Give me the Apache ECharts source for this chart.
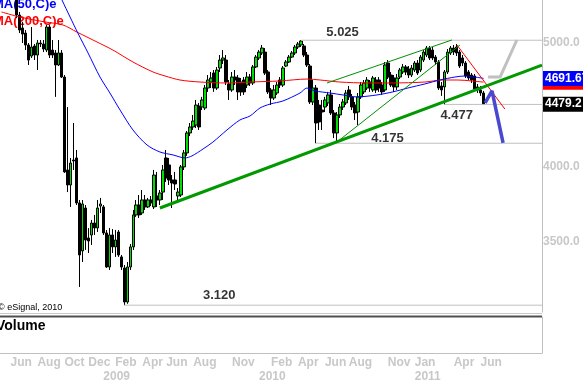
<!DOCTYPE html>
<html><head><meta charset="utf-8">
<script src="https://cdn.jsdelivr.net/npm/echarts@6/dist/echarts.min.js"></script>
<style>html,body{margin:0;padding:0;background:#fff}#c{width:583px;height:385px}</style>
</head><body><div id="c"></div>
<script>
// ---------- DATA ----------
const startYear = 2008, startMonth = 5, startDay = 12;   // first weekly bar (Mon 12 May 2008)
const weekCount = 181;                                   // weeks on the axis (incl. empty future weeks)
// weekly candles [open, close, low, high]; '-' = off the top of the chart
const candles = ['-','-','-','-','-',
[5451,5258,5230,5500],[5258,5118,5090,5287],[5137,5081,5000,5193],[5090,4982,4937,5118],[4982,4849,4806,5000],
[4884,4964,4867,5146],[4973,4893,4849,4991],[4893,5000,4763,5027],[5000,4991,4964,5027],[4991,4946,4919,5027],
[4937,5146,4919,5165],[5146,4893,4867,5165],[4937,4893,4867,5027],[4911,4806,4538,4937],[4806,4911,4797,5027],
[4911,4703,4695,4937],[4703,3965,3958,4720],[3979,3873,3824,4456],[3873,4029,3723,4066],[4051,4044,3979,4330],
[4066,3750,3736,4125],[3750,3415,3224,3770],[3440,3743,3372,3770],[3716,3508,3446,3736],[3521,3502,3427,3584],
[3540,3617,3477,3637],[3617,3585,3540,3670],[3585,3716,3559,3770],[3729,3743,3683,3784],[3723,3553,3540,3736],
[3553,3342,3336,3572],[3342,3540,3324,3585],[3540,3465,3427,3578],[3465,3508,3403,3572],[3559,3415,3403,3572],
[3403,3342,3324,3415],[3336,3138,3120,3354],[3138,3342,3128,3372],[3342,3465,3324,3483],[3465,3670,3446,3703],
[3670,3736,3657,3770],[3736,3670,3650,3804],[3683,3770,3670,3838],[3770,3723,3703,3804],[3723,3770,3716,3784],
[3770,3750,3729,3797],[3723,3943,3709,3979],[3797,3770,3723,3965],[3770,3818,3736,3838],[3824,3979,3770,4015],
[4066,3922,3894,4125],[4015,3908,3873,4066],[3908,3887,3716,3943],[3908,3880,3838,3965],[3797,3824,3770,3852],
[3804,4001,3790,4015],[4001,4103,3979,4125],[4103,4253,4081,4268],[4253,4299,4229,4330],[4299,4345,4276,4393],
[4314,4472,4291,4513],[4464,4299,4276,4489],[4456,4513,4432,4538],[4448,4611,4432,4636],[4611,4678,4579,4720],
[4661,4695,4611,4746],[4737,4611,4579,4763],[4611,4763,4595,4789],[4780,4849,4746,4893],[4849,4867,4815,4937],
[4849,4661,4636,4893],[4645,4595,4513,4678],[4595,4703,4579,4746],[4703,4678,4636,4763],[4695,4579,4513,4720],
[4661,4579,4546,4695],[4678,4579,4554,4703],[4636,4703,4611,4746],[4703,4653,4628,4729],[4653,4789,4636,4806],
[4789,4875,4780,4893],[4867,4919,4849,4937],[4911,4955,4893,4982],[4919,4737,4720,4955],[4746,4579,4562,4763],
[4595,4529,4472,4611],[4529,4595,4513,4636],[4570,4636,4554,4661],[4678,4636,4611,4703],[4636,4780,4620,4797],
[4797,4832,4789,4849],[4832,4875,4823,4893],[4875,4911,4867,4928],[4911,4964,4893,4982],[4964,4991,4946,5009],
[4982,5018,4964,5025],[4973,4893,4875,4991],[4893,4806,4789,4919],[4797,4497,4480,4815],[4497,4611,4472,4678],
[4611,4330,4175,4636],[4472,4338,4276,4513],[4432,4416,4276,4513],[4456,4513,4416,4538],[4489,4554,4464,4579],
[4554,4409,4393,4595],[4409,4253,4214,4432],[4253,4393,4178,4416],[4393,4456,4369,4480],[4456,4497,4432,4521],
[4489,4570,4472,4595],[4595,4538,4513,4628],[4538,4456,4432,4562],[4472,4409,4353,4497],[4416,4538,4314,4570],
[4538,4636,4521,4661],[4579,4653,4562,4678],[4611,4678,4595,4703],[4661,4611,4579,4678],[4595,4695,4579,4712],
[4678,4595,4570,4703],[4678,4611,4579,4703],[4636,4579,4554,4661],[4595,4806,4579,4832],[4823,4703,4686,4849],
[4720,4636,4620,4746],[4695,4620,4579,4720],[4620,4695,4595,4729],[4703,4763,4686,4780],[4746,4789,4729,4815],
[4789,4746,4720,4806],[4772,4720,4695,4797],[4720,4780,4703,4806],[4763,4823,4746,4840],[4823,4737,4720,4849],
[4763,4875,4746,4893],[4849,4919,4832,4937],[4893,4955,4875,4973],[4955,4867,4849,4973],[4937,4867,4849,4964],
[4875,4832,4806,4893],[4832,4611,4595,4849],[4628,4595,4546,4661],[4620,4746,4477,4763],[4746,4919,4729,4946],
[4911,4955,4893,4973],[4955,4919,4893,4982],[4964,4911,4884,4991],[4919,4797,4780,4937],[4867,4823,4797,4893],
[4823,4712,4695,4840],[4746,4695,4678,4763],[4720,4678,4653,4737],[4712,4603,4587,4729],[4620,4595,4570,4645],
[4595,4570,4546,4628],[4570,4479.2,4472,4587]
];
// moving averages: [week index, value]
const ma50Points = [[17.9,5550],[20.2,5402],[22.9,5239],[25.5,5090],[28.9,4911],[32.9,4703],[36.2,4570],[39.6,4432],
[43.9,4276],[48.6,4162],[52.9,4110],[57.3,4088],[61.3,4066],[63.6,4081],[67.3,4132],[70.6,4184],[75.3,4276],[79.6,4353],
[83.0,4385],[86.3,4448],[89.7,4480],[94.0,4505],[99.7,4570],[102.0,4611],[104.7,4587],[109.7,4570],[114.0,4554],
[118.7,4538],[125.4,4554],[130.7,4579],[135.7,4611],[141.4,4645],[146.4,4678],[151.4,4703],[154.8,4712],[158.1,4703],
[161,4691.67]];
const ma200Points = [[0,5287],[6.2,5239],[14.5,5193],[20.5,5165],[25.2,5099],[31.9,5009],[37.2,4937],[43.9,4832],
[50.6,4746],[54.6,4712],[59.6,4678],[66.3,4661],[75.3,4653],[83.0,4661],[93.0,4670],[102.0,4686],[106.4,4678],
[113.0,4661],[122.1,4653],[130.4,4653],[141.4,4661],[147.1,4678],[152.4,4678],[157.1,4670],[161,4660]];
const ma50Last = 4691.67, ma200Last = 4660, lastClose = 4479.2;
const priceTicks = [5000, 4000, 3500];
const yMin = 3082, yMax = 5402;
// x axis tick labels (first weekly bar of the month)
const tickDates = ['2008-06-02','2008-08-04','2008-10-06','2008-12-01','2009-01-05','2009-02-02','2009-04-06','2009-06-01',
'2009-08-03','2009-11-02','2010-01-04','2010-02-01','2010-04-05','2010-06-07','2010-08-02','2010-11-01','2011-01-03',
'2011-04-04','2011-06-06'];
const tickTexts = ['Jun','Aug','Oct','Dec',' \n2009','Feb','Apr','Jun','Aug','Nov',' \n2010','Feb','Apr','Jun','Aug','Nov',
'Jan\n2011','Apr','Jun'];
// marked levels: value and week index where it was set
const levelValues = [5025, 4175, 4477, 3120];
const levelWeeks = [100, 105, 148, 41];
// drawn trend lines / arrows [week index, value]
const trendMain = [[52.9,3716],[180.5,4805]];
const channelUpper = [[108.7,4653],[150.4,5027]];
const channelLower = [[112.0,4184],[153.1,4982]];
const downTrend = [[152.1,4982],[168.1,4440]];
const grayArrow = [[162.5,4703],[166.5,4703],[172.1,5027]];
const blueArrow = [[161.5,4489],[163.8,4587],[167.5,4177]];

// ---------- LAYOUT ----------
const levelLabelAnchors = [[113.9,5095],[128.9,4212],[152.0,4393],[72.7,3173]];
const FONT = '"Liberation Sans", Arial, Helvetica, sans-serif';
const GREY = '#c8c8c8';

const dates = [];
for (let k = 0; k < weekCount; k++) {
  const d = new Date(Date.UTC(startYear, startMonth - 1, startDay + 7 * k));
  dates.push(d.toISOString().slice(0, 10));
}
const tickMap = {};
tickDates.forEach((d, k) => { tickMap[d] = tickTexts[k]; });
const rightEnd = weekCount - 0.5;
const fmtLevel = v => (v / 1000).toFixed(3);

const overlay = (data, color, width, z) => ({
  type: 'line', xAxisIndex: 2, yAxisIndex: 0, data, symbol: 'none', showSymbol: false,
  lineStyle: { color, width }, silent: true, z: z || 3, animation: false
});

const sideLabel = (bg) => ({
  show: true, position: 'end', distance: 1, color: '#fff', backgroundColor: bg,
  fontFamily: FONT, fontWeight: 'bold', fontSize: 12, padding: [2, 2, 1, 2],
  formatter: p => p.value.toFixed(p.value === lastClose ? 1 : 2)
});

const series = [
  {
    type: 'candlestick', xAxisIndex: 0, yAxisIndex: 0, data: candles, barWidth: 3, z: 2,
    itemStyle: { color: '#00dd00', color0: '#000', borderColor: '#000', borderColor0: '#000', borderWidth: 1 },
    markLine: {
      silent: true, symbol: ['none', 'none'], animation: false,
      lineStyle: { color: 'rgba(0,0,0,0)', width: 0 },
      data: priceTicks.map(v => ({ yAxis: v, label: { show: true, position: 'end', distance: 1, color: GREY,
        fontFamily: FONT, fontWeight: 'bold', fontSize: 12, formatter: p => p.value.toFixed(1) } }))
        .concat([
          { yAxis: ma200Last, label: sideLabel('#ff0000') },
          { yAxis: ma50Last, label: sideLabel('#0000ff') },
          { yAxis: lastClose, label: sideLabel('#000000') }
        ])
    }
  },
  Object.assign(overlay(ma200Points, '#ff0000', 1), { smooth: 0.3 }),
  Object.assign(overlay(ma50Points, '#0000ff', 1), { smooth: 0.3 })
];
levelValues.forEach((v, k) => series.push(overlay([[levelWeeks[k], v], [rightEnd, v]], '#c0c0c0', 1)));
series.push(overlay(channelUpper, '#009000', 1));
series.push(overlay(channelLower, '#009000', 1));
series.push(overlay(trendMain, '#009900', 3, 4));
series.push(overlay(downTrend, '#ff0000', 1));
series.push(overlay(grayArrow, '#c0c0c0', 3, 4));
series.push(overlay(blueArrow, '#4848d0', 3.5, 4));
series.push({
  type: 'scatter', xAxisIndex: 2, yAxisIndex: 0, symbolSize: 1, silent: true, z: 6,
  itemStyle: { color: 'rgba(0,0,0,0)' },
  data: levelLabelAnchors.map((p, k) => ({ value: p, label: { formatter: fmtLevel(levelValues[k]) } })),
  label: { show: true, position: 'inside', color: '#000', fontFamily: FONT, fontWeight: 'bold', fontSize: 13 }
});

const noAxisBits = { axisTick: { show: false }, axisLabel: { show: false }, splitLine: { show: false } };
const chart = echarts.init(document.getElementById('c'), null, { renderer: 'canvas' });
chart.setOption({
  animation: false,
  backgroundColor: '#ffffff',
  grid: [
    { left: 0, right: 41, top: 0, height: 312, outerBoundsMode: 'none', containLabel: false },
    { left: 0, right: 41, top: 317, height: 36, outerBoundsMode: 'none', containLabel: false }
  ],
  xAxis: [
    { type: 'category', gridIndex: 0, data: dates, show: false, boundaryGap: true },
    { type: 'category', gridIndex: 1, data: dates, boundaryGap: true,
      axisLine: { onZero: false, lineStyle: { color: '#c0c0c0' } }, axisTick: { show: false }, splitLine: { show: false },
      axisLabel: { interval: (i, v) => Object.prototype.hasOwnProperty.call(tickMap, v), formatter: v => tickMap[v] || '',
        align: 'left', color: GREY, fontWeight: 'bold', fontSize: 12, fontFamily: FONT, lineHeight: 14, margin: 3 } },
    { type: 'value', gridIndex: 0, min: -0.5, max: rightEnd, show: false }
  ],
  yAxis: [
    Object.assign({ type: 'log', gridIndex: 0, min: yMin, max: yMax, position: 'right',
      axisLine: { show: true, onZero: false, lineStyle: { color: '#c0c0c0' } } }, noAxisBits),
    Object.assign({ type: 'value', gridIndex: 1, min: 0, max: 1, position: 'right',
      axisLine: { show: true, onZero: false, lineStyle: { color: '#c0c0c0' } } }, noAxisBits)
  ],
  graphic: [
    { type: 'text', x: -7, y: -2, z: 0, style: { text: 'MA(50,C)e', fill: '#0000ff', font: 'bold 13px ' + FONT } },
    { type: 'text', x: -7, y: 14.5, z: 0, style: { text: 'MA(200,C)e', fill: '#ff0000', font: 'bold 13px ' + FONT } },
    { type: 'line', z: 0, shape: { x1: 0, y1: 313.5, x2: 542, y2: 313.5 }, style: { stroke: '#c8c8c8', lineWidth: 1 } },
    { type: 'rect', z: 0, shape: { x: 0, y: 315.5, width: 542, height: 2 }, style: { fill: '#505050' } },
    { type: 'text', x: -4, y: 319, z: 0, style: { text: 'Volume', fill: '#000', font: 'bold 14px ' + FONT } },
    { type: 'text', x: -2, y: 303, z: 0, style: { text: '\u00a9 eSignal, 2010', fill: '#000', font: '9px ' + FONT } }
  ],
  series
});
</script></body></html>
